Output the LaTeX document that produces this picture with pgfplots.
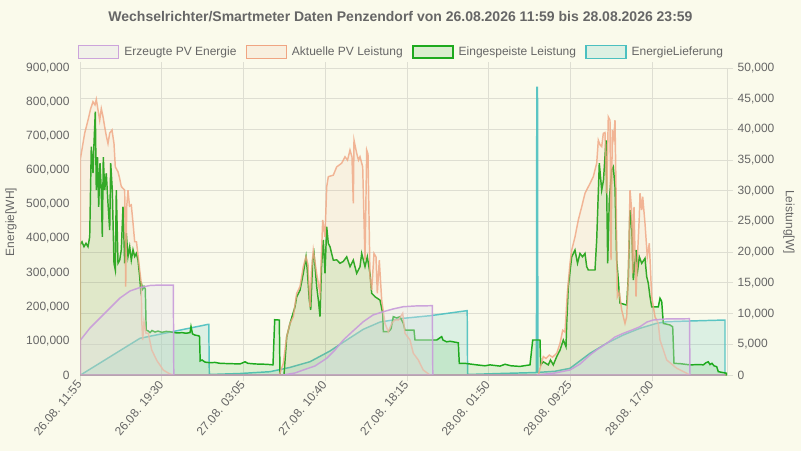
\documentclass[border=0pt]{standalone}
\usepackage{fontspec}
\setmainfont{Liberation Sans}
\usepackage{pgfplots}
\pgfplotsset{compat=1.18}
\definecolor{bg}{RGB}{250,250,235}
\definecolor{txt}{RGB}{102,102,102}
\definecolor{gridc}{RGB}{222,222,210}
\definecolor{cpur}{RGB}{200,155,218}
\definecolor{cpurf}{RGB}{225,225,232}
\definecolor{corg}{RGB}{240,165,130}
\definecolor{cgrn}{RGB}{30,170,30}
\definecolor{ctea}{RGB}{75,192,192}
\newlength\px
\setlength\px{0.75pt}
\pgfplotsset{
  base/.style={
    at={(80.3\px,76\px)}, anchor=south west, scale only axis,
    width=646.7\px, height=307\px, xmin=80.3, xmax=727,
    ticklabel style={font=\fontsize{9}{10}\selectfont, text=txt},
    /pgf/number format/fixed,
    /pgf/number format/precision=0,
    /pgf/number format/assume math mode=true,
    /pgf/number format/1000 sep={,},
    scaled y ticks=false,
    tick align=outside, major tick length=6\px,
    every tick/.style={draw=gridc, line width=0.75pt},
  },
}
\begin{document}
\begin{tikzpicture}
\fill[bg] (0,0) rectangle (801\px,451\px);
\node[font=\bfseries\fontsize{10.5}{12}\selectfont, text=txt] at (400.5\px,434\px) {Wechselrichter/Smartmeter Daten Penzendorf von 26.08.2026 11:59 bis 28.08.2026 23:59};
\node[rotate=90, font=\fontsize{9}{10}\selectfont, text=txt] at (11\px,229\px) {Energie[WH]};
\node[rotate=-90, font=\fontsize{9}{10}\selectfont, text=txt] at (789\px,229\px) {Leistung[W]};
% axis 1: energy, grid, x ticks, teal
\begin{axis}[base,
  ymin=0, ymax=900000, ytick={0,100000,...,900000},
  ytick style={draw=none},
  xtick={80.3,161.97,243.6,325.3,407,488.6,570.3,652},
  xticklabels={26.08. 11:55,26.08. 19:30,27.08. 03:05,27.08. 10:40,27.08. 18:15,28.08. 01:50,28.08. 09:25,28.08. 17:00},
  xticklabel style={rotate=50, anchor=east, inner sep=1pt},
  xmajorgrids, grid style={draw=gridc, line width=0.75pt},
  extra y ticks={90000,180000,270000,360000,450000,540000,630000,720000,810000},
  extra y tick labels={},
  extra y tick style={grid=major, ytick style={draw=none}},
  axis line style={draw=gridc, line width=0.75pt},
  clip=true,
]
\addplot[draw=ctea, line width=1.1pt, draw opacity=0.9, fill=ctea, fill opacity=0.17] coordinates {
(80.5,0) (100,35200) (120,71500) (140,107600) (160,119600) (180,131600) (208.3,148600) (208.8,148600) (209.3,1500) (240,4400) (270,9700) (290,22300) (310,39000) (330,70400) (346.7,102600) (363.3,134000) (380,155200) (403.3,166200) (430,173800) (466.7,188500) (467.2,188500) (467.6,1500) (500,4400) (536.4,7300) (536.8,843400) (537.5,843400) (537.9,7600) (555,11000) (570,19600) (590,63600) (606.7,92900) (623.3,117300) (640,136900) (656.7,151600) (666.7,156300) (700,159200) (725,161200)
} \closedcycle;
\end{axis}
% axis 2: power
\begin{axis}[base,
  ymin=0, ymax=50000, ytick={0,5000,...,50000},
  axis y line*=right, axis x line=none,
  y axis line style={draw=gridc, line width=0.75pt},
  yticklabel style={anchor=west},
]
\addplot[draw=cgrn, line width=1.1pt, fill=cgrn, fill opacity=0.12] coordinates {
(80,21200) (82,21700) (84,20900) (86,21450) (88,20900) (89.7,22500) (91.3,37200) (93,32900) (94,37700) (95.3,42900) (96.3,30100) (97.5,35500) (98.7,27400) (100,34500) (101.3,30100) (102.3,22500) (103.3,35500) (104.7,30100) (106.3,32850) (108,27950) (109.7,23600) (110.7,34500) (112.3,30100) (114,18200) (115.3,17100) (116.3,30100) (118,18200) (119.7,18700) (121.3,20400) (123,27400) (124.7,18200) (126.3,23100) (128,19300) (129.7,20900) (131.3,18700) (133,20400) (134.7,19300) (136.3,19800) (138,18700) (139.7,16000) (140.7,13800) (141.7,14700) (142.7,14000) (144,14400) (145.3,14000) (146.2,7300) (148,7200) (150,6900) (152,7250) (155,7000) (158,7150) (162,6950) (166,7100) (170,7050) (174,6900) (178,6850) (182,6900) (186,6800) (190,6900) (191,7900) (192.5,6700) (195,6500) (198.3,6400) (199.5,6300) (200.2,2300) (202,2450) (205,2100) (210,2000) (215,2050) (220,1900) (230,1850) (240,1800) (245,2150) (248,1900) (255,1800) (265,1750) (270,1700) (273,1650) (274.7,9000) (279.3,8950) (280,0) (284,0) (286.7,6200) (290,8400) (295,11100) (296.7,12750) (300,13800) (303.3,16550) (306,19250) (307.3,17100) (309.3,12200) (310.7,10600) (312.7,18700) (314,19800) (316.7,14400) (318.5,12000) (320,9500) (321.5,17600) (323.3,22000) (325,16550) (326.7,24150) (328.3,21450) (330,20900) (333.3,18700) (336.7,18750) (340,18200) (343.3,18500) (346.7,19250) (350,17650) (353.3,18700) (356.7,16550) (360,17650) (361.7,19800) (365,17650) (367.3,19250) (370,16550) (371.7,13300) (375,12750) (380,12200) (382.7,10050) (383.3,7050) (388.3,7050) (391,7500) (393.3,9500) (396.7,9300) (400,9500) (403.3,8400) (405,7300) (414,7300) (415,5700) (425,5700) (436.7,5700) (441.7,6250) (443,5700) (446.7,5400) (450,5500) (458.3,5250) (459.3,1900) (465,1900) (476.7,1650) (485,1500) (490,1650) (500,1450) (505,1750) (511,1500) (520,1400) (530,1650) (532.7,5700) (540,5700) (540.7,1650) (543.3,2150) (548.3,1650) (550.5,2450) (553.3,1650) (556.7,3000) (560,4050) (563.3,5700) (566,4600) (566.7,8400) (568.3,14400) (571.7,19250) (575,20350) (577.5,18200) (580,19800) (582.5,19250) (585,19800) (586.7,17650) (588.3,17100) (595,17100) (596.7,22000) (599.3,34500) (601.7,30100) (603.5,31750) (606,38250) (607.7,18200) (609.3,28500) (611.7,33400) (613.3,33900) (615,30650) (616.7,18700) (618.3,15450) (620,11700) (626.7,11400) (628.3,16000) (630,26850) (631.7,24150) (633.3,15450) (636,20350) (637.7,17100) (639.3,19250) (641.7,18200) (645,19000) (646.7,16000) (648.3,14950) (650,12750) (651.7,11100) (658.3,11100) (660,12500) (661.7,12000) (663.3,8400) (670,8150) (672.7,7850) (674,1900) (680,1850) (690,1650) (700,1700) (703.3,1650) (706,2000) (708.3,2150) (710,1700) (712,1900) (714,1500) (716.7,1350) (718.3,550) (726.7,280)
} \closedcycle;
\addplot[draw=corg, line width=1.1pt, draw opacity=0.8, fill=corg, fill opacity=0.1] coordinates {
(80.5,35300) (84.7,39400) (88,41500) (90.7,43400) (93,44500) (95,44000) (96.3,44900) (98,43200) (99.7,41500) (101.3,43400) (103,42100) (104.7,40400) (106.5,38800) (108,37700) (109.7,39400) (112,39900) (114,37700) (115.3,33900) (118,33100) (119.7,32000) (121.3,30700) (124.7,30100) (125.7,14400) (126.7,27400) (128,30100) (129.5,27500) (131.3,27700) (133,24800) (134.7,21700) (136.5,21700) (139.7,17100) (141.3,14900) (141.7,9000) (142.7,5700) (144,8700) (146,6800) (148.3,6800) (151.7,4100) (156.7,2400) (163.3,800) (170,160) (173.5,0) (279.3,0) (283.3,1900) (286.7,6250) (290,8400) (293.3,9500) (296.7,13300) (300,14400) (303.3,17650) (306,19250) (308,18000) (310,11100) (311.5,17000) (313.3,20350) (316.7,16500) (320,13300) (322.7,25250) (325,22500) (326.7,30650) (328.3,32300) (333.3,32550) (336.7,33900) (341.7,34500) (345,35550) (347.5,35000) (350,36650) (352,35500) (353.3,27950) (354,38250) (356.7,36100) (358.5,35000) (360,35550) (362.7,33900) (365,18700) (366.7,36650) (368,36000) (370,16000) (371.7,13850) (374,19800) (376,19250) (377.3,13300) (379.3,18700) (381.7,12200) (385,8400) (388.3,7050) (391.7,8400) (395,9000) (398.3,8950) (402.7,10050) (405,6800) (410,5700) (413.3,3550) (418.3,2450) (423.3,800) (430,0) (538.3,0) (540,1100) (543.3,3000) (546,2700) (549.3,3250) (552.5,2900) (556.7,3550) (560,5150) (562.7,7300) (565,7000) (567.3,13300) (570,18200) (571.7,20350) (575,22500) (578.3,25250) (581.7,27400) (585,29600) (590,31200) (593.3,32300) (596.7,34500) (598.3,38250) (600,37500) (601.7,37200) (603.3,39350) (605,39500) (606.7,29600) (608.3,42050) (610,41500) (611,18700) (612.3,39900) (613.7,38500) (615,41500) (616,30650) (617.3,12750) (619.3,13500) (621.7,10600) (625,8400) (626.7,9500) (628.3,16000) (630,30100) (631.7,26850) (632.7,16550) (634,27400) (636,12750) (637.3,18700) (639.3,25800) (640,29600) (641.7,26850) (642.7,29050) (645,24700) (647.3,19250) (649.3,21450) (651.7,12750) (655,9500) (658.3,8400) (660,5700) (666.7,2450) (676.7,1100) (686.7,280) (690,0) (726,0)
} \closedcycle;
\end{axis}
% axis 3: purple energy + legend
\begin{axis}[base,
  ymin=0, ymax=900000, hide axis,
  legend columns=4,
  legend style={at={(axis description cs:0.4951,1.0521)}, anchor=center, draw=none, fill=none,
    font=\fontsize{9}{10}\selectfont, text=txt, inner sep=0pt,
    /tikz/every even column/.append style={column sep=9\px},
    nodes={inner sep=0pt, xshift=0pt}},
  legend image code/.code={\draw[#1] (-4.5\px,-6.3\px) rectangle (35.5\px,6.3\px);},
]
\addplot[draw=cpur, line width=1.1pt, draw opacity=0.9, fill=cpurf, fill opacity=0.35] coordinates {
(80.5,102600) (90,137800) (100,167100) (110,196400) (120,225700) (130,246300) (140,256500) (150,262400) (160,263800) (173.3,263800) (173.8,0) (283,0) (295,5900) (303.3,14700) (315,26400) (326.7,49000) (335,73300) (343.3,102600) (353,129000) (363.3,156300) (373,175900) (383.3,185600) (393,193500) (403.3,200200) (415,202300) (432.3,203200) (432.8,0) (536.7,0) (555,5900) (570,14700) (580,32200) (590,58600) (598,76200) (606.7,92900) (615,111400) (623.3,122200) (632,131900) (640,141600) (647,155400) (653.3,161200) (665,164200) (689.5,165000) (690,0) (725,0)
} \closedcycle;
\addlegendentry{\hspace{5\px}Erzeugte PV Energie}
\addlegendimage{draw=corg, line width=1.1pt, fill=corg, fill opacity=0.12}
\addlegendentry{\hspace{5\px}Aktuelle PV Leistung}
\addlegendimage{draw=cgrn, line width=1.5pt, fill=cgrn, fill opacity=0.14}
\addlegendentry{\hspace{5\px}Eingespeiste Leistung}
\addlegendimage{draw=ctea, line width=1.1pt, fill=ctea, fill opacity=0.17}
\addlegendentry{\hspace{5\px}EnergieLieferung}
\end{axis}
\end{tikzpicture}
\end{document}
